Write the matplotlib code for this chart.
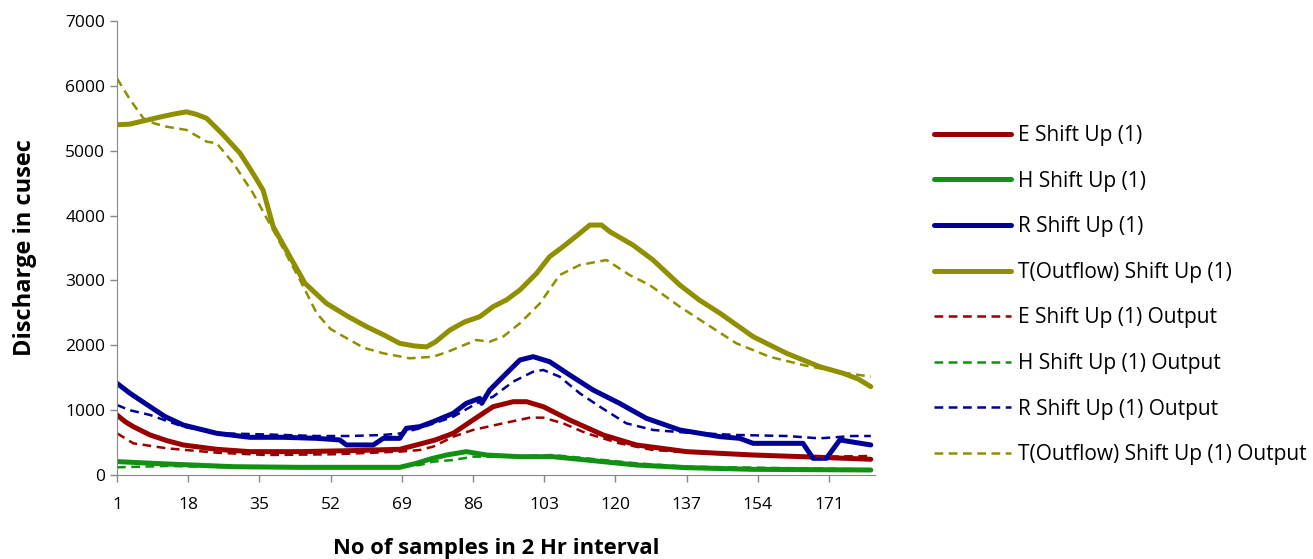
import numpy as np
import matplotlib
matplotlib.use('Agg')
import matplotlib.pyplot as plt

plt.rcParams['font.family'] = ['Open Sans', 'DejaVu Sans']

# sample positions and discharge values
t_x = [1, 4, 8, 12, 15, 17.6, 20, 22.4, 26, 30.4, 33, 35.9, 38.3, 42.3, 45.9, 51, 56, 60.6, 65, 68.5, 72, 74.9,
       77, 80.5, 84, 87.6, 90.8, 94, 97.2, 101.2, 104.3, 107.5, 111.5, 113.9, 116.7, 118.7, 124.2, 129, 135.4,
       140, 145, 152.9, 160.9, 168.8, 174.4, 178, 181]
t_y = [5400, 5410, 5470, 5530, 5570, 5600, 5560, 5500, 5270, 4960, 4700, 4390, 3830, 3366, 2955, 2647, 2450,
       2287, 2150, 2030, 1990, 1975, 2050, 2235, 2360, 2440, 2595, 2700, 2852, 3110, 3366, 3520, 3726, 3854,
       3854, 3751, 3546, 3315, 2929, 2700, 2493, 2133, 1876, 1670, 1568, 1480, 1362]

t_out_x = [1, 4, 7.3, 10, 12.9, 17.6, 22.4, 24.8, 28.8, 33.5, 38.3, 44.7, 48.7, 52, 56.6, 60, 64.6, 70.9,
           76.5, 80, 82.9, 86.8, 90, 93.2, 97.2, 102, 106.7, 111.5, 117.9, 123.4, 128.2, 135.4, 140.9,
           148.9, 156.8, 164.8, 172.8, 181]
t_out_y = [6115, 5800, 5500, 5420, 5370, 5320, 5140, 5115, 4806, 4343, 3777, 3006, 2493, 2250, 2081, 1960,
           1876, 1799, 1824, 1900, 1978, 2081, 2056, 2133, 2338, 2647, 3083, 3238, 3315, 3083, 2929, 2595,
           2364, 2030, 1824, 1696, 1593, 1516]

r_x = [1, 4.1, 8.9, 12.5, 16.8, 24.8, 32.7, 40.7, 48.7, 54.2, 55.8, 62.2, 64.6, 68.5, 70.1, 73.3, 76.5, 81.3,
       84.4, 87.6, 88.1, 90, 94, 97.2, 100.4, 104.3, 109.1, 114.7, 121, 127.4, 135.4, 145, 149.7, 152.9,
       164.8, 167.2, 170.4, 173.6, 181]
r_y = [1413, 1260, 1053, 900, 771, 643, 581, 581, 565, 540, 463, 463, 565, 565, 720, 745, 822, 951, 1105,
       1182, 1105, 1310, 1568, 1773, 1824, 1747, 1542, 1310, 1105, 874, 694, 591, 565, 488, 488, 257, 257,
       540, 463]

r_out_x = [1, 4, 8.9, 16.8, 24.8, 32.7, 40.7, 48.7, 56.6, 64.6, 68.5, 73.3, 81.3, 87.6, 90.8, 95.6, 100.4,
           102.8, 106.7, 111.5, 116.3, 122.6, 129, 137, 148.9, 160.9, 168.8, 176.7, 181]
r_out_y = [1079, 1000, 925, 745, 643, 632, 617, 601, 601, 617, 640, 720, 899, 1130, 1207, 1439, 1593, 1619,
           1516, 1260, 1053, 797, 694, 653, 617, 601, 565, 601, 601]

e_x = [1, 3, 4.9, 8.9, 12.9, 16.8, 24.8, 32.7, 44.7, 56.6, 68.5, 72.5, 77, 81.3, 86, 90.8, 95.6, 98.8,
       102.8, 109.1, 117.1, 125, 137, 152.9, 164.8, 181]
e_y = [925, 820, 745, 617, 530, 463, 396, 360, 360, 375, 396, 463, 540, 643, 848, 1053, 1130, 1130, 1053,
       848, 617, 463, 360, 308, 282, 242]

e_out_x = [1, 4.9, 12.9, 24.8, 36.7, 52.6, 68.5, 73.3, 76.5, 81.3, 86, 93.2, 99.6, 102.8, 107.5, 113.1,
           121, 129, 140.9, 152.9, 168.8, 181]
e_out_y = [643, 488, 411, 344, 308, 319, 360, 385, 437, 591, 694, 797, 884, 884, 797, 643, 488, 385, 334,
           308, 282, 293]

h_x = [1, 12.9, 28.8, 44.7, 60.6, 68.5, 72.5, 76, 79.7, 84.4, 89.2, 97.2, 105.1, 113.1, 125, 137, 152.9, 181]
h_y = [206, 170, 128, 118, 118, 118, 180, 250, 308, 360, 308, 282, 282, 231, 154, 113, 87, 77]

h_out_x = [1, 12.9, 28.8, 44.7, 68.5, 73.3, 76.5, 81.3, 86, 93.2, 105.1, 113.1, 125, 137, 181]
h_out_y = [118, 139, 118, 118, 128, 154, 206, 231, 282, 282, 308, 257, 180, 128, 87]

series = [
    (e_x, e_y, 'E Shift Up (1)', '#990000', '-'),
    (h_x, h_y, 'H Shift Up (1)', '#119011', '-'),
    (r_x, r_y, 'R Shift Up (1)', '#000099', '-'),
    (t_x, t_y, 'T(Outflow) Shift Up (1)', '#8f8f00', '-'),
    (e_out_x, e_out_y, 'E Shift Up (1) Output', '#990000', '--'),
    (h_out_x, h_out_y, 'H Shift Up (1) Output', '#119011', '--'),
    (r_out_x, r_out_y, 'R Shift Up (1) Output', '#000099', '--'),
    (t_out_x, t_out_y, 'T(Outflow) Shift Up (1) Output', '#8f8f00', '--'),
]

fig = plt.figure(figsize=(13.13, 5.59), dpi=100)
ax = fig.add_axes([0.0891, 0.1503, 0.5773, 0.8121])

for x, y, label, color, ls in series:
    if ls == '-':
        ax.plot(x, y, color=color, lw=3.6, label=label, solid_capstyle='round')
    else:
        ax.plot(x, y, color=color, lw=1.8, ls=(0, (3.5, 2.2)), label=label)

ax.set_xlim(1, 182)
ax.set_ylim(0, 7000)
ax.set_xticks(np.arange(1, 172, 17))
ax.set_yticks(np.arange(0, 7001, 1000))
ax.tick_params(axis='both', labelsize=12.5, color='#888888', length=5, width=1)
ax.tick_params(axis='x', pad=11)
for s in ['top', 'right']:
    ax.spines[s].set_visible(False)
for s in ['left', 'bottom']:
    ax.spines[s].set_color('#888888')

ax.set_xlabel('No of samples in 2 Hr interval', fontsize=15.8, fontweight='bold', labelpad=18)
ax.set_ylabel('Discharge in cusec', fontsize=17, fontweight='bold', labelpad=20)

ax.legend(loc='upper left', bbox_to_anchor=(0.705, 0.791), bbox_transform=fig.transFigure,
          frameon=False, fontsize=15, handlelength=3.7, handletextpad=0.34, labelspacing=1.18,
          borderaxespad=0)

fig.savefig('out.png', dpi=100)
